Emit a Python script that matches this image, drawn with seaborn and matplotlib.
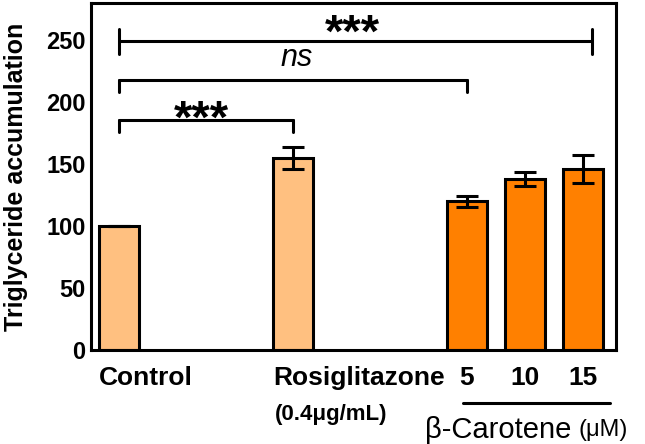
#! /usr/bin/env python3

# imports
import matplotlib
matplotlib.use("Agg")
import matplotlib.pyplot as plt
import seaborn as sns
import pandas as pd

# data
groups = ["Control", "Rosiglitazone", "5", "10", "15"]
positions = [0, 3, 6, 7, 8]
triglyceride = [100, 155, 120, 138, 146]
sem = [0, 9, 4.5, 5.5, 11]
treatment = ["reference", "reference", "carotene", "carotene", "carotene"]
yticks = [0, 50, 100, 150, 200, 250]

# significance brackets: start, end, height, label, label x, label y (glyph centre)
comparisons = [
    (0, 3, 186, "***", 1.43, 197),
    (0, 6, 218, "ns", 3.07, 236),
    (0, 8.16, 249, "***", 4.02, 267),
]

palette = {"reference": "#FFC080", "carotene": "#FF8000"}
BAR_W = 0.68
LW = 2.2
ASTERISK_DROP = 22   # asterisk glyph sits high above the baseline


def main():
    sns.set_style("white")
    plt.rcParams["font.family"] = ["Liberation Sans", "DejaVu Sans"]
    plt.rcParams["text.color"] = "black"
    plt.rcParams["axes.labelcolor"] = "black"
    plt.rcParams["ytick.color"] = "black"

    df = pd.DataFrame({"pos": positions, "value": triglyceride,
                       "treatment": treatment})

    fig = plt.figure(figsize=(6.45, 4.44), dpi=100)
    ax = fig.add_axes([0.141, 0.212, 0.814, 0.781])

    sns.barplot(data=df, x="pos", y="value", hue="treatment", palette=palette,
                native_scale=True, width=BAR_W, dodge=False, legend=False,
                saturation=1, edgecolor="black", linewidth=LW, errorbar=None,
                ax=ax)
    ax.errorbar(positions, triglyceride, yerr=sem, fmt="none", ecolor="black",
                elinewidth=LW, capsize=8, capthick=LW, zorder=5)

    ax.set_xlim(-0.48, 8.57)
    ax.set_ylim(0, 280)
    ax.set_yticks(yticks)
    ax.set_yticklabels([str(t) for t in yticks], fontsize=17, fontweight="bold")
    ax.tick_params(axis="y", length=0, pad=4)
    ax.set_xticks([])
    ax.set_xlabel("")
    ax.set_ylabel("Triglyceride accumulation", fontsize=18, fontweight="bold")
    ax.yaxis.set_label_coords(-0.12, 0.5)
    for sp in ax.spines.values():
        sp.set_visible(True)
        sp.set_color("black")
        sp.set_linewidth(LW)

    # brackets
    for i, (x0, x1, h, label, lx, ly) in enumerate(comparisons):
        lo = h - 10
        hi = h + 10 if i == len(comparisons) - 1 else h
        ax.plot([x0, x0], [lo, hi], color="black", lw=LW)
        ax.plot([x1, x1], [lo, hi], color="black", lw=LW)
        ax.plot([x0, x1], [h, h], color="black", lw=LW)
        if label == "ns":
            ax.text(lx, ly, label, ha="center", va="center", fontsize=22,
                    fontstyle="italic")
        else:
            ax.text(lx, ly - ASTERISK_DROP, label, ha="center", va="baseline",
                    fontsize=34, fontweight="bold")

    # category labels under the axis
    tr = ax.get_xaxis_transform()
    for p, g in zip(positions, groups):
        if g.isdigit():
            ax.text(p, -0.081, g, transform=tr, ha="center", va="center",
                    fontsize=19, fontweight="bold")
        else:
            ax.text(p - BAR_W / 2, -0.081, g, transform=tr, ha="left",
                    va="center", fontsize=19, fontweight="bold")
    ax.text(positions[1] - BAR_W / 2 + 0.03, -0.187, "(0.4\u03bcg/mL)",
            transform=tr, ha="left", va="center", fontsize=16,
            fontweight="bold")
    ax.plot([positions[2] - 0.06, positions[4] + 0.46], [-0.153, -0.153],
            transform=tr, color="black", lw=LW, clip_on=False)
    ax.text(positions[2] - 0.72, -0.231, "\u03b2-Carotene", transform=tr,
            ha="left", va="center", fontsize=21)
    ax.text(positions[4] - 0.08, -0.231, "(\u03bcM)", transform=tr,
            ha="left", va="center", fontsize=17)

    fig.savefig("out.png", dpi=100)


if __name__ == "__main__":
    main()
